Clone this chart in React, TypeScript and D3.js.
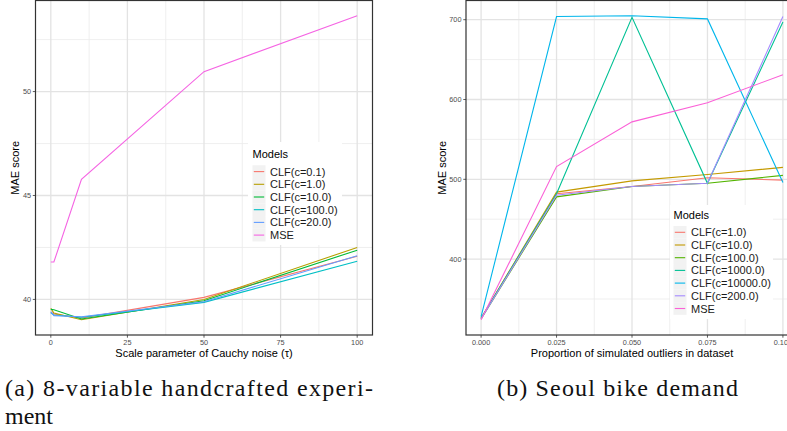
import React from "react";
import * as d3 from "d3";

// ---------- Panel (a): 8-variable handcrafted experiment ----------
const tauValues = [0, 1, 10, 50, 100];
const leftModels = ["CLF(c=0.1)", "CLF(c=1.0)", "CLF(c=10.0)", "CLF(c=100.0)", "CLF(c=20.0)", "MSE"];
const leftColors = ["#F8766D", "#B79F00", "#00BA38", "#00BFC4", "#619CFF", "#F564E3"];
const clf01 = [39.4, 39.3, 39.1, 40.1, 42.08];
const clf1 = [39.57, 39.35, 39.02, 40.0, 42.5];
const clf10 = [39.52, 39.5, 39.06, 39.94, 42.37];
const clf100 = [39.36, 39.25, 39.14, 39.86, 41.84];
const clf20 = [39.4, 39.22, 39.17, 39.89, 42.1];
const mseLeft = [41.8, 41.8, 45.78, 50.96, 53.65];
const leftSeries = [clf01, clf1, clf10, clf100, clf20, mseLeft];
const leftXTicks = [0, 25, 50, 75, 100];
const leftYTicks = [40, 45, 50];

// ---------- Panel (b): Seoul bike demand ----------
const outlierProps = [0, 0.025, 0.05, 0.075, 0.1];
const rightModels = ["CLF(c=1.0)", "CLF(c=10.0)", "CLF(c=100.0)", "CLF(c=1000.0)", "CLF(c=10000.0)", "CLF(c=200.0)", "MSE"];
const rightColors = ["#F8766D", "#C49A00", "#53B400", "#00C094", "#00B6EB", "#A58AFF", "#FB61D7"];
const bClf1 = [326, 482, 491, 502, 499];
const bClf10 = [326, 484, 498, 506, 515];
const bClf100 = [325, 478, 491, 495, 505];
const bClf1000 = [326, 482, 703, 495, 697];
const bClf10000 = [328, 704, 705, 701, 496];
const bClf200 = [325, 480, 491, 495, 704];
const mseRight = [324, 516, 572, 596, 631];
const rightSeries = [bClf1, bClf10, bClf100, bClf1000, bClf10000, bClf200, mseRight];
const rightXTicks = [0, 0.025, 0.05, 0.075, 0.1];
const rightYTicks = [400, 500, 600, 700];

const SANS = "Liberation Sans";
const SERIF = "Liberation Serif";

function expand(vals: number[]): [number, number] {
  const mn = d3.min(vals) as number;
  const mx = d3.max(vals) as number;
  const r = mx - mn;
  return [mn - 0.05 * r, mx + 0.05 * r];
}

type PanelProps = {
  x0: number; x1: number; y0: number; y1: number;
  xs: number[]; series: number[][]; colors: string[];
  xTicks: number[]; yTicks: number[];
  xFmt: (v: number) => string;
  xTitle: string; yTitleX: number;
  models: string[];
  legend: { x: number; y: number; w: number; h: number; keyX: number; titleY: number; firstRow: number; textX: number };
};

function Panel(p: PanelProps) {
  const xExt = d3.extent(p.xs) as [number, number];
  const xr = xExt[1] - xExt[0];
  const x = d3.scaleLinear().domain([xExt[0] - 0.05 * xr, xExt[1] + 0.05 * xr]).range([p.x0, p.x1]);
  const y = d3.scaleLinear().domain(expand(p.series.flat())).range([p.y1, p.y0]);
  const xMinor: number[] = [];
  for (let i = 0; i < p.xTicks.length - 1; i++) xMinor.push((p.xTicks[i] + p.xTicks[i + 1]) / 2);
  const ystep = p.yTicks[1] - p.yTicks[0];
  const yMinor: number[] = [];
  for (let v = p.yTicks[0] - ystep / 2; v <= y.domain()[1]; v += ystep) {
    if (v >= y.domain()[0]) yMinor.push(v);
  }
  const line = d3.line<number>().x((_, i) => x(p.xs[i])).y((d) => y(d));
  const rowH = 12.7;
  const L = p.legend;
  return (
    <g>
      <rect x={p.x0} y={p.y0} width={p.x1 - p.x0} height={p.y1 - p.y0} fill="#fff" />
      {xMinor.map((v) => (
        <line key={"xm" + v} x1={x(v)} x2={x(v)} y1={p.y0} y2={p.y1} stroke="#EBEBEB" strokeWidth={0.8} />
      ))}
      {yMinor.map((v) => (
        <line key={"ym" + v} x1={p.x0} x2={p.x1} y1={y(v)} y2={y(v)} stroke="#EBEBEB" strokeWidth={0.8} />
      ))}
      {p.xTicks.map((v) => (
        <line key={"xM" + v} x1={x(v)} x2={x(v)} y1={p.y0} y2={p.y1} stroke="#E3E3E3" strokeWidth={1.3} />
      ))}
      {p.yTicks.map((v) => (
        <line key={"yM" + v} x1={p.x0} x2={p.x1} y1={y(v)} y2={y(v)} stroke="#E3E3E3" strokeWidth={1.3} />
      ))}
      {p.series.map((s, i) => (
        <path key={"s" + i} d={line(s) || ""} fill="none" stroke={p.colors[i]} strokeWidth={1.1} />
      ))}
      <rect x={p.x0} y={p.y0} width={p.x1 - p.x0} height={p.y1 - p.y0} fill="none" stroke="#333" strokeWidth={1.2} />
      {p.xTicks.map((v) => (
        <g key={"xt" + v}>
          <line x1={x(v)} x2={x(v)} y1={p.y1} y2={p.y1 + 2.7} stroke="#333" strokeWidth={0.8} />
          <text x={x(v)} y={p.y1 + 10.3} fontSize={7.3} fill="#4D4D4D" textAnchor="middle" fontFamily={SANS}>{p.xFmt(v)}</text>
        </g>
      ))}
      {p.yTicks.map((v) => (
        <g key={"yt" + v}>
          <line x1={p.x0 - 2.7} x2={p.x0} y1={y(v)} y2={y(v)} stroke="#333" strokeWidth={0.8} />
          <text x={p.x0 - 4.5} y={y(v) + 2.6} fontSize={7.3} fill="#4D4D4D" textAnchor="end" fontFamily={SANS}>{v}</text>
        </g>
      ))}
      <text x={(p.x0 + p.x1) / 2} y={356.5} fontSize={11} textAnchor="middle" fontFamily={SANS} fill="#000">{p.xTitle}</text>
      <text transform={`translate(${p.yTitleX},${(p.y0 + p.y1) / 2}) rotate(-90)`} y={4} fontSize={11} textAnchor="middle" fontFamily={SANS} fill="#000">MAE score</text>
      {/* legend */}
      <rect x={L.x} y={L.y} width={L.w} height={L.h} fill="#fff" />
      <text x={L.keyX} y={L.titleY + 4} fontSize={11} fontFamily={SANS} fill="#000">Models</text>
      {p.models.map((m, i) => {
        const cy = L.firstRow + i * rowH;
        return (
          <g key={"lg" + m}>
            <rect x={L.keyX} y={cy - rowH / 2} width={13} height={rowH} fill="#F2F2F2" />
            <line x1={L.keyX + 1.3} x2={L.keyX + 11.7} y1={cy} y2={cy} stroke={p.colors[i]} strokeWidth={1.1} />
            <text x={L.textX} y={cy + 4} fontSize={11} fontFamily={SANS} fill="#1a1a1a">{m}</text>
          </g>
        );
      })}
    </g>
  );
}

export default function App() {
  return (
    <svg width={787} height={431} style={{ position: "absolute", left: 0, top: 0, background: "#fff" }}>
      <rect x={0} y={0} width={787} height={431} fill="#fff" />
      <Panel
        x0={35.5} x1={372.5} y0={0.5} y1={335}
        xs={tauValues} series={leftSeries} colors={leftColors}
        xTicks={leftXTicks} yTicks={leftYTicks}
        xFmt={(v) => String(v)}
        xTitle="Scale parameter of Cauchy noise (τ)" yTitleX={15}
        models={leftModels}
        legend={{ x: 248, y: 142, w: 94, h: 103, keyX: 252.5, titleY: 154, firstRow: 171.6, textX: 270 }}
      />
      <Panel
        x0={466} x1={798} y0={0.5} y1={335}
        xs={outlierProps} series={rightSeries} colors={rightColors}
        xTicks={rightXTicks} yTicks={rightYTicks}
        xFmt={(v) => d3.format(".3f")(v)}
        xTitle="Proportion of simulated outliers in dataset" yTitleX={441.7}
        models={rightModels}
        legend={{ x: 670, y: 205, w: 103, h: 114, keyX: 673.5, titleY: 215, firstRow: 232.3, textX: 691 }}
      />
      <text x={5} y={396} fontSize={24} fontFamily={SERIF} fill="#111" textLength={368} lengthAdjust="spacing">(a) 8-variable handcrafted experi-</text>
      <text x={5} y={424} fontSize={24} fontFamily={SERIF} fill="#111">ment</text>
      <text x={497} y={396} fontSize={24} fontFamily={SERIF} fill="#111" textLength={241} lengthAdjust="spacing">(b) Seoul bike demand</text>
    </svg>
  );
}
